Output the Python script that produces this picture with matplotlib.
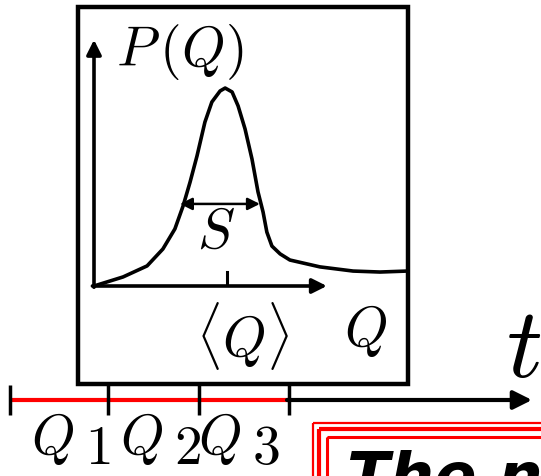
import matplotlib.pyplot as plt
from matplotlib.patches import Rectangle

plt.rcParams['mathtext.fontset'] = 'cm'

# distribution sketch P(Q), arbitrary units (Q and P both on 0..10)
q = [0, 0.92, 1.68, 2.18, 2.56, 2.82, 3.04, 3.26, 3.51, 3.73, 3.99, 4.15, 4.37,
     4.56, 4.78, 5.0, 5.19, 5.35, 5.47, 5.63, 5.89, 6.20, 7.15, 8.20, 9.05, 9.91]
p = [0, 0.37, 0.82, 1.51, 2.33, 3.27, 4.24, 5.31, 6.69, 7.51, 7.96, 8.08, 7.92,
     7.35, 6.41, 5.18, 3.84, 3.02, 2.20, 1.63, 1.31, 1.06, 0.78, 0.61, 0.57, 0.61]
q_mean = 4.21
s_lo, s_hi, s_level = 2.72, 5.25, 3.35

# window boundaries along the time line
t_edges = [10, 108, 199, 289]
window_idx = ['1', '2', '3']
label_x = [33, 122, 200]

fig = plt.figure(figsize=(5.41, 4.77), dpi=100)
ax = fig.add_axes([0, 0, 1, 1])
ax.set_xlim(0, 541)
ax.set_ylim(477, 0)
ax.axis('off')

# time line: red covered part, black arrow onward
ax.annotate('', xy=(532, 401), xytext=(t_edges[-1] - 2, 401),
            arrowprops=dict(arrowstyle='-|>', color='black', lw=3,
                            mutation_scale=28, shrinkA=0, shrinkB=0))
ax.plot([t_edges[0], t_edges[-1]], [401, 401], color='red', lw=3, solid_capstyle='butt')
for x in t_edges:
    ax.plot([x, x], [386, 416], color='black', lw=2.5, solid_capstyle='butt')
for x0, idx in zip(label_x, window_idx):
    ax.text(x0 - 2, 439, r'$Q$', fontsize=40, ha='left', va='center')
    ax.text(x0 + 52, 449, '$' + idx + '$', fontsize=40, ha='left', va='center')
ax.text(524, 350, r'$t$', fontsize=72, ha='center', va='center')

# frame around the distribution
ax.add_patch(Rectangle((78, 8), 330, 377, fill=False, ec='black', lw=3.2))

# boxed title, cut at the figure edge
for off, lw in [(313, 1.6), (319, 3.0), (327, 2.2)]:
    d = off - 313
    ax.add_patch(Rectangle((off, 424 + d), 300, 100, fill=False, ec='red',
                           lw=lw, clip_on=False))
ax.text(347, 497, 'The n', fontsize=45, fontweight='bold', fontstyle='italic',
        ha='left', va='baseline')

# inset with the distribution
ins = fig.add_axes([94 / 541, (477 - 287) / 477, 316 / 541, 245 / 477])
ins.set_xlim(0, 10)
ins.set_ylim(0, 10)
ins.axis('off')
ins.plot(q, p, color='black', lw=2.6, clip_on=False)
ins.annotate('', xy=(0, 10.05), xytext=(0, -0.05), annotation_clip=False,
             arrowprops=dict(arrowstyle='-|>', color='black', lw=2.6,
                             mutation_scale=22, shrinkA=0, shrinkB=0))
ins.annotate('', xy=(7.37, 0), xytext=(-0.05, 0), annotation_clip=False,
             arrowprops=dict(arrowstyle='-|>', color='black', lw=2.6,
                             mutation_scale=22, shrinkA=0, shrinkB=0))
ins.plot([q_mean, q_mean], [0, 0.57], color='black', lw=2.2)
ins.annotate('', xy=(s_lo, s_level), xytext=(s_hi, s_level), annotation_clip=False,
             arrowprops=dict(arrowstyle='<|-|>', color='black', lw=1.8,
                             mutation_scale=18, shrinkA=0, shrinkB=0))
ins.text(2.7, 9.6, r'$P\,(Q)$', fontsize=40, ha='center', va='center')
ins.text(3.85, 2.2, r'$S$', fontsize=40, ha='center', va='center')
ins.text(4.7, -2.0, r'$\langle Q\rangle$', fontsize=40, ha='center', va='center')
ins.text(8.6, -1.8, r'$Q$', fontsize=40, ha='center', va='center')

fig.savefig('out.png', dpi=100)
